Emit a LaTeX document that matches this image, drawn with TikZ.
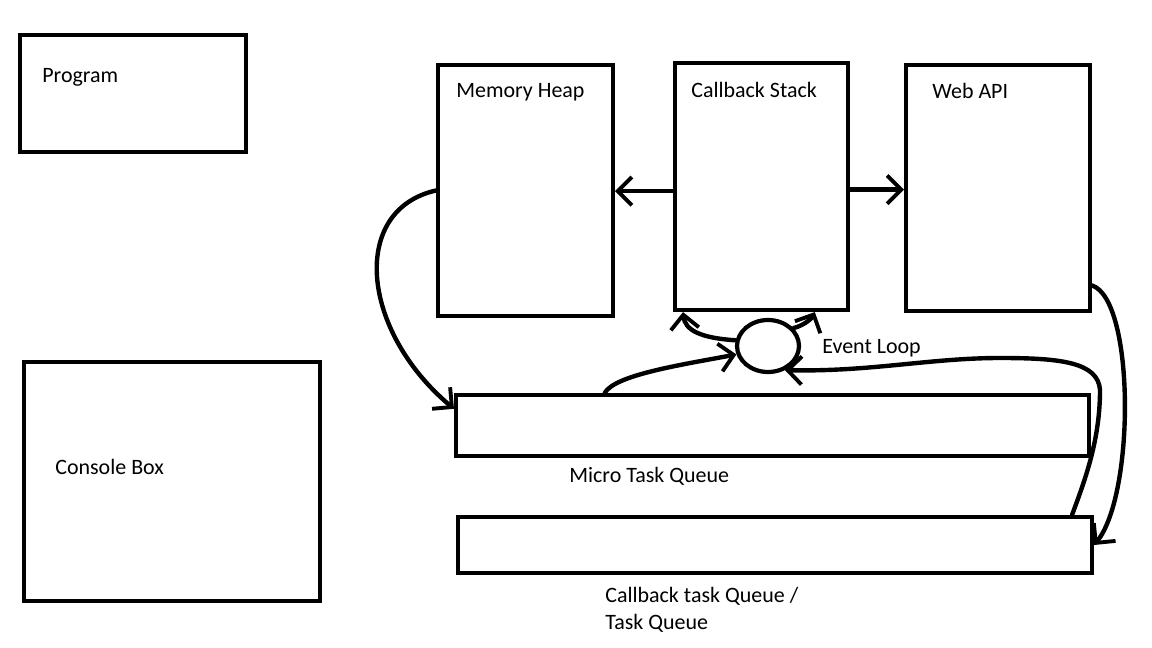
\documentclass[tikz,border=0pt]{standalone}
\usepackage{fontspec}
\setmainfont{Carlito}
\usetikzlibrary{positioning,
	calc,
	shapes,
	arrows.meta}
\tikzstyle{box}=[draw, line width=2.4pt, inner sep=0]
\tikzstyle{txt}=[anchor=base west, inner sep=0, font=\fontsize{12.5}{15}\selectfont]
\tikzstyle{arr}=[line width=2.5pt, line cap=round,
		-{Straight Barb[length=8pt, width=16pt, line width=2.2pt]}]

\begin{document}
\begin{tikzpicture}[x=0.02cm, y=-0.02cm]
            \useasboundingbox (0,0) rectangle (1152,648);
            % boxes
            \node[box, minimum width=4.52cm, minimum height=2.34cm] (prog) at (133,93.5) {};
            \node[box, minimum width=3.5cm, minimum height=5.02cm] (heap) at (525.5,190.5) {};
            \node[box, minimum width=3.46cm, minimum height=4.94cm] (stack) at (761.5,186.5) {};
            \node[box, minimum width=3.68cm, minimum height=4.92cm] (webapi) at (998,188) {};
            \node[box, minimum width=5.92cm, minimum height=4.78cm] (console) at (172,481.5) {};
            \node[box, minimum width=12.66cm, minimum height=1.22cm] (micro) at (772.5,425.5) {};
            \node[box, minimum width=12.68cm, minimum height=1.12cm] (task) at (775,545) {};
            \node[box, ellipse, minimum width=1.24cm, minimum height=1.04cm] (loop) at (768,346) {};
            % texts
            \node[txt] (progtxt) at (42,83) {Program};
            \node[txt] (heaptxt) at (456,98) {Memory Heap};
            \node[txt] (stacktxt) at (691,98) {Callback Stack};
            \node[txt] (webtxt) at (932,99) {Web API};
            \node[txt] (consoletxt) at (55,474) {Console Box};
            \node[txt] (looptxt) at (822,354) {Event Loop};
            \node[txt] (microtxt) at (569,482) {Micro Task Queue};
            \node[txt] (tasktxt) at (605,602) {Callback task Queue /};
            \node[txt] (tasktxt2) at (605,629) {Task Queue};
            % connectors
            \draw[arr] (stack.183) -- (stack.183 -| heap.east);
            \draw[arr] (stack.-2) -- (stack.-2 -| webapi.west);
            \draw[arr] (heap.west) .. controls (350,210) and (360,330) .. (micro.177);
            \draw[arr] (webapi.-46) .. controls (1135,300) and (1135,495) .. (task.east);
            \draw[arr] ($(task.north east)+(-22,0)$) .. controls (1085,480) and (1100,440) .. (1100,390)
                .. controls (1098,362) and (1060,358) .. (1000,358)
                .. controls (930,358) and (870,372) .. (loop.-55);
            \draw[arr] (micro.169.7) .. controls (615,375) and (680,365) .. (loop.195);
            \draw[arr] (loop.170) .. controls (700,338) and (685,330) .. (stack.-122);
            \draw[arr] (loop.35) .. controls (805,325) and (812,318) .. (stack.-67);
\end{tikzpicture}
\end{document}
